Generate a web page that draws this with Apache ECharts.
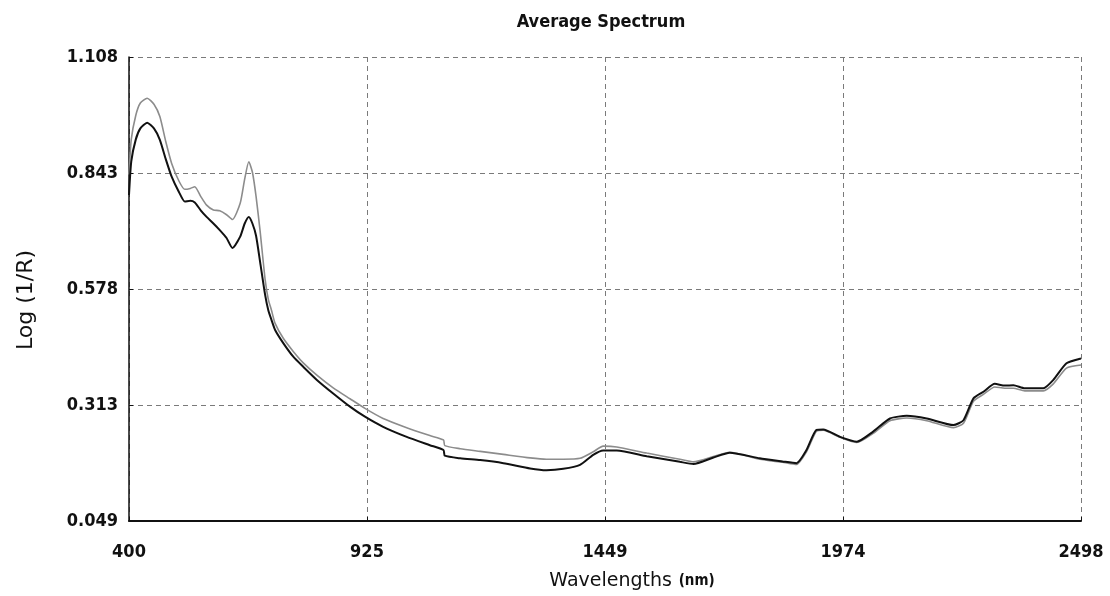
<!DOCTYPE html>
<html>
<head>
    <title>Average Spectrum</title>
    <script src="https://cdn.jsdelivr.net/npm/echarts@6/dist/echarts.min.js"></script>
    <style>
        html, body { margin: 0; padding: 0; background: #fff; }
        #chart { width: 1110px; height: 596px; }
    </style>
</head>
<body>
    <div id="chart"></div>
    <script type="text/javascript">
        // wavelengths (nm)
        var wavelengths = [400, 405, 415, 425, 440, 455, 468, 481, 494, 510, 523, 535, 545, 558, 571, 586, 600, 615, 628,
            645, 655, 664, 672, 680, 689, 700, 707, 714, 722, 740, 762, 784, 814, 850, 887, 920, 960, 1012, 1063, 1093,
            1096, 1130, 1174, 1225, 1284, 1320, 1357, 1394, 1423, 1445, 1475, 1541, 1614, 1644, 1688, 1724, 1790, 1840,
            1871, 1893, 1915, 1930, 1967, 2004, 2040, 2077, 2114, 2158, 2217, 2239, 2261, 2283, 2308, 2330, 2349, 2374,
            2415, 2437, 2466, 2498];

        // dark curve, Log(1/R)
        var darkSpectrum = [0.793, 0.870, 0.920, 0.945, 0.958, 0.945, 0.919, 0.875, 0.835, 0.800, 0.778, 0.780, 0.776,
            0.758, 0.743, 0.728, 0.713, 0.695, 0.672, 0.698, 0.728, 0.743, 0.728, 0.700, 0.640, 0.565, 0.530, 0.508,
            0.485, 0.455, 0.424, 0.401, 0.371, 0.340, 0.310, 0.287, 0.264, 0.241, 0.222, 0.211, 0.198, 0.192, 0.188,
            0.181, 0.169, 0.165, 0.168, 0.177, 0.200, 0.210, 0.210, 0.197, 0.184, 0.179, 0.194, 0.205, 0.192, 0.185,
            0.181, 0.211, 0.257, 0.258, 0.241, 0.230, 0.253, 0.283, 0.289, 0.283, 0.268, 0.279, 0.329, 0.344, 0.362,
            0.358, 0.359, 0.352, 0.352, 0.371, 0.409, 0.420];

        // light curve, Log(1/R)
        var lightSpectrum = [0.840, 0.920, 0.975, 1.003, 1.014, 1.000, 0.972, 0.915, 0.865, 0.825, 0.806, 0.808, 0.812,
            0.790, 0.770, 0.759, 0.757, 0.748, 0.737, 0.774, 0.830, 0.869, 0.845, 0.790, 0.710, 0.600, 0.555, 0.530,
            0.500, 0.466, 0.436, 0.410, 0.382, 0.353, 0.328, 0.306, 0.283, 0.262, 0.244, 0.234, 0.221, 0.214, 0.208,
            0.201, 0.193, 0.190, 0.190, 0.192, 0.207, 0.220, 0.218, 0.204, 0.190, 0.184, 0.196, 0.206, 0.190, 0.183,
            0.178, 0.207, 0.254, 0.256, 0.240, 0.228, 0.249, 0.278, 0.284, 0.278, 0.262, 0.272, 0.322, 0.338, 0.355,
            0.352, 0.352, 0.346, 0.346, 0.362, 0.398, 0.405];

        var xTickValues = [400, 924.5, 1449, 1973.5, 2498];
        var xTickLabels = ['400', '925', '1449', '1974', '2498'];
        var yTickValues = [0.049, 0.31375, 0.5785, 0.84325, 1.108];
        var yTickLabels = ['0.049', '0.313', '0.578', '0.843', '1.108'];

        function pairs(xs, ys) {
            return xs.map(function (x, i) { return [x, ys[i]]; });
        }

        // tick values are not round, so pick the printed label by nearest tick
        function lookup(values, labels) {
            return function (v) {
                var best = 0;
                values.forEach(function (t, i) {
                    if (Math.abs(t - v) < Math.abs(values[best] - v)) best = i;
                });
                return labels[best];
            };
        }

        var labelFont = '"DejaVu Sans Condensed", "DejaVu Sans", sans-serif';
        var nameFont = '"DejaVu Sans", sans-serif';
        var gridDash = { color: '#7a7a7a', type: [5, 4], width: 1 };

        var chart = echarts.init(document.getElementById('chart'), null, { renderer: 'canvas' });
        chart.setOption({
            animation: false,
            backgroundColor: '#fff',
            title: {
                text: 'Average Spectrum',
                left: 596,
                top: 0,
                textAlign: 'center',
                textStyle: { fontFamily: labelFont, fontWeight: 'bold', fontSize: 18, color: '#111' }
            },
            grid: { left: 129, right: 29, top: 57, bottom: 75, outerBoundsMode: 'none', containLabel: false },
            xAxis: {
                type: 'value',
                min: 400,
                max: 2498,
                axisLine: { show: true, lineStyle: { color: '#111', width: 2 } },
                axisTick: { show: true, inside: true, length: 4, customValues: xTickValues, lineStyle: { color: '#111' } },
                axisLabel: {
                    customValues: xTickValues,
                    formatter: lookup(xTickValues, xTickLabels),
                    margin: 14,
                    fontFamily: labelFont, fontWeight: 'bold', fontSize: 18, color: '#111'
                },
                splitLine: { show: true, lineStyle: gridDash },
                name: '{a|Wavelengths}  {b|(nm)}',
                nameLocation: 'middle',
                nameGap: 41,
                nameMoveOverlap: false,
                nameTextStyle: {
                    padding: [0, 0, 0, 54],
                    rich: {
                        a: { fontFamily: nameFont, fontSize: 19, color: '#111' },
                        b: { fontFamily: labelFont, fontWeight: 'bold', fontSize: 15, color: '#111' }
                    }
                }
            },
            yAxis: {
                type: 'value',
                min: 0.049,
                max: 1.108,
                axisLine: { show: true, lineStyle: { color: '#111', width: 1.5 } },
                axisTick: { show: true, inside: true, length: 4, customValues: yTickValues, lineStyle: { color: '#111' } },
                axisLabel: {
                    customValues: yTickValues,
                    formatter: lookup(yTickValues, yTickLabels),
                    margin: 11,
                    fontFamily: labelFont, fontWeight: 'bold', fontSize: 18, color: '#111'
                },
                splitLine: { show: true, lineStyle: gridDash },
                name: 'Log (1/R)',
                nameLocation: 'middle',
                nameRotate: 90,
                nameGap: 81,
                nameMoveOverlap: false,
                nameTextStyle: {
                    padding: [0, 22, 0, 0],
                    fontFamily: nameFont, fontSize: 22, color: '#111'
                }
            },
            series: [
                {
                    name: 'light',
                    type: 'line',
                    data: pairs(wavelengths, lightSpectrum),
                    showSymbol: false,
                    smooth: 0.2,
                    lineStyle: { color: '#8c8c8c', width: 1.6 },
                    z: 2
                },
                {
                    name: 'dark',
                    type: 'line',
                    data: pairs(wavelengths, darkSpectrum),
                    showSymbol: false,
                    smooth: 0.2,
                    lineStyle: { color: '#111', width: 2 },
                    z: 3
                }
            ]
        });
    </script>
</body>
</html>
